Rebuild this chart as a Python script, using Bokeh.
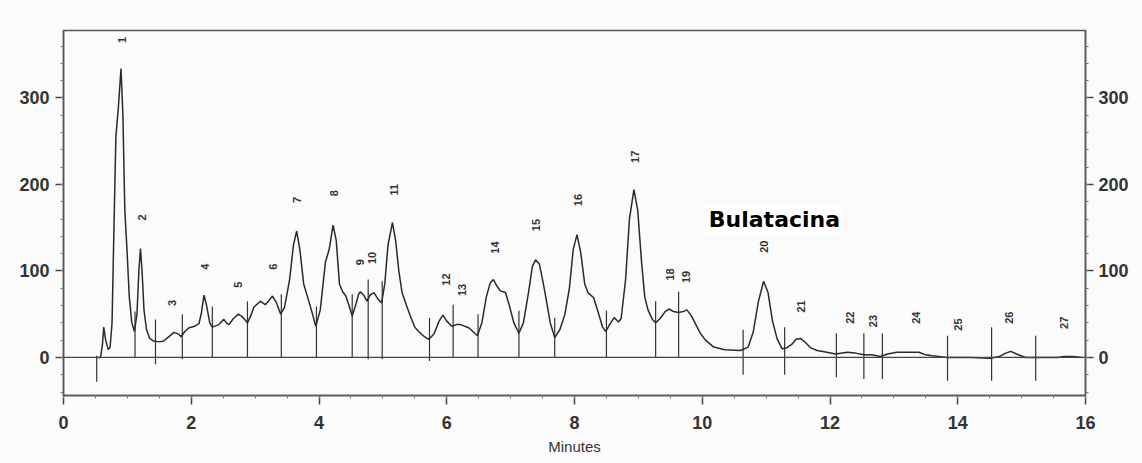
import math
from bokeh.plotting import figure
from bokeh.models import Range1d, LinearAxis, Span, Label, FixedTicker
from bokeh.core.properties import value
from bokeh.embed import file_html
from bokeh.resources import INLINE

# Chromatogram trace (minutes, response)
trace_x = [0.52, 0.58, 0.61, 0.63, 0.66, 0.70, 0.73, 0.76, 0.79, 0.82, 0.86, 0.90, 0.93, 0.96, 0.99,
           1.03, 1.07, 1.11, 1.15, 1.18, 1.205, 1.23, 1.26, 1.30, 1.35, 1.41, 1.50, 1.57, 1.65, 1.73,
           1.80, 1.84, 1.90, 1.96, 2.05, 2.12, 2.16, 2.20, 2.24, 2.29, 2.33, 2.43, 2.51, 2.55, 2.59,
           2.66, 2.74, 2.80, 2.88, 2.93, 2.98, 3.08, 3.16, 3.22, 3.27, 3.33, 3.40, 3.46, 3.54, 3.60,
           3.65, 3.70, 3.76, 3.82, 3.88, 3.95, 4.02, 4.10, 4.16, 4.22, 4.27, 4.32, 4.37, 4.42, 4.47,
           4.52, 4.58, 4.62, 4.65, 4.70, 4.75, 4.80, 4.86, 4.92, 4.98, 5.03, 5.08, 5.15, 5.20, 5.25,
           5.30, 5.37, 5.43, 5.50, 5.56, 5.65, 5.72, 5.80, 5.88, 5.94, 6.00, 6.08, 6.15, 6.22, 6.35,
           6.48, 6.55, 6.62, 6.68, 6.73, 6.79, 6.84, 6.92, 6.98, 7.05, 7.13, 7.20, 7.28, 7.34, 7.39,
           7.45, 7.50, 7.55, 7.62, 7.69, 7.77, 7.85, 7.92, 7.98, 8.04, 8.10, 8.16, 8.21, 8.30, 8.38,
           8.44, 8.49, 8.55, 8.62, 8.69, 8.73, 8.80, 8.86, 8.93, 8.99, 9.05, 9.10, 9.15, 9.22, 9.27,
           9.34, 9.42, 9.48, 9.55, 9.63, 9.70, 9.76, 9.83, 9.90, 9.97, 10.05, 10.18, 10.35, 10.60, 10.72,
           10.80, 10.88, 10.96, 11.03, 11.10, 11.17, 11.25, 11.32, 11.40, 11.47, 11.54, 11.62, 11.70, 11.80, 11.95,
           12.09, 12.27, 12.40, 12.53, 12.65, 12.79, 12.90, 13.05, 13.25, 13.39, 13.50, 13.60, 13.83, 14.20, 14.51,
           14.65, 14.75, 14.83, 14.92, 15.06, 15.40, 15.56, 15.66, 15.80, 15.95]
trace_y = [0, 0, 15, 35, 20, 9, 12, 40, 150, 255, 290, 334, 280, 170, 130,
           70, 40, 30, 50, 100, 126, 100, 55, 32, 22, 19, 18, 19, 24, 29,
           27, 24, 30, 34, 36, 39, 52, 72, 60, 40, 35, 38, 44, 40, 38,
           45, 50, 47, 40, 48, 58, 65, 61, 66, 71, 64, 50, 58, 90, 130,
           146, 125, 85, 70, 55, 36, 55, 110, 125, 153, 135, 85, 76, 71, 60,
           48, 62, 73, 76, 72, 65, 72, 75, 68, 63, 85, 130, 156, 135, 100,
           75, 60, 48, 35, 30, 24, 21, 27, 42, 49, 42, 36, 38, 38, 34,
           25, 40, 70, 86, 90, 82, 77, 75, 60, 40, 28, 40, 75, 105, 113,
           108, 90, 70, 40, 23, 32, 50, 80, 125, 142, 120, 85, 75, 69, 50,
           35, 30, 38, 46, 41, 45, 90, 160, 194, 170, 110, 70, 55, 44, 40,
           45, 53, 56, 53, 52, 53, 55, 48, 38, 28, 20, 12, 9, 8, 12,
           30, 65, 88, 75, 42, 22, 10, 11, 15, 21, 22, 17, 11, 8, 6,
           4, 6, 5, 3, 3, 1, 4, 6, 6, 6, 3, 2, 0, 0, -1,
           1, 5, 7, 4, 0, 0, 0, 1, 1, 0]

# Integration markers (vertical ticks)
marker_x = [0.52, 1.12, 1.44, 1.86, 2.33, 2.88, 3.41, 3.96, 4.52, 4.77, 4.99, 5.73, 6.10, 6.49,
            7.13, 7.69, 8.50, 9.27, 9.63, 10.64, 11.29, 12.10, 12.53, 12.82, 13.84, 14.53, 15.22]
marker_top = [2, 53, 44, 50, 59, 65, 73, 59, 73, 90, 88, 46, 61, 50,
              54, 46, 54, 65, 76, 32, 35, 28, 28, 28, 25, 35, 25]
marker_bottom = [-28, 0, -8, -2, 0, 0, 0, 0, 0, -2, -2, -4, 0, 0,
                 0, 0, 0, 0, 0, -20, -20, -23, -25, -25, -27, -27, -27]

# Peak number labels
peak_labels = [str(i) for i in range(1, 28)]
label_x = [0.92, 1.23, 1.70, 2.22, 2.73, 3.28, 3.66, 4.23, 4.64, 4.83, 5.17, 5.99, 6.24, 6.75,
           7.40, 8.05, 8.94, 9.49, 9.74, 10.96, 11.55, 12.32, 12.68, 13.34, 14.01, 14.80, 15.66]
label_y = [367, 162, 63, 105, 84, 105, 182, 190, 110, 115, 194, 90, 78, 127,
           153, 182, 232, 96, 93, 128, 59, 46, 42, 46, 38, 46, 40]

y_ticks = [0, 100, 200, 300]
x_ticks = [0, 2, 4, 6, 8, 10, 12, 14, 16]

ink = "#333333"
bg = "#fbfbfb"

p = figure(width=1142, height=463, output_backend="svg", toolbar_location=None,
           x_range=Range1d(0, 16), y_range=Range1d(-44, 378),
           min_border_left=63, min_border_right=57, min_border_top=30, min_border_bottom=68,
           background_fill_color=bg, border_fill_color=bg)
p.grid.visible = False
p.outline_line_color = "#555555"
p.outline_line_width = 1.5

def style_axis(ax, tick_out, standoff):
    ax.axis_line_color = "#555555"
    ax.axis_line_width = 1.5
    ax.major_tick_line_color = "#444444"
    ax.major_tick_line_width = 1.5
    ax.major_tick_out = tick_out
    ax.major_tick_in = 0
    ax.minor_tick_line_color = "#777777"
    ax.minor_tick_out = 3
    ax.minor_tick_in = 0
    ax.major_label_text_font = "Liberation Sans"
    ax.major_label_text_font_style = "bold"
    ax.major_label_text_font_size = "18px"
    ax.major_label_text_color = ink
    ax.major_label_standoff = standoff

p.xaxis.ticker = FixedTicker(ticks=x_ticks, minor_ticks=[v / 2 for v in range(0, 33)])
style_axis(p.xaxis[0], 9, 11)
p.xaxis.axis_label = "Minutes"
p.xaxis.axis_label_text_font = "Liberation Sans"
p.xaxis.axis_label_text_font_style = "normal"
p.xaxis.axis_label_text_font_size = "15px"
p.xaxis.axis_label_text_color = ink
p.xaxis.axis_label_standoff = 6

p.yaxis.ticker = FixedTicker(ticks=y_ticks, minor_ticks=list(range(-40, 380, 20)))
style_axis(p.yaxis[0], 8, 6)

right = LinearAxis(ticker=FixedTicker(ticks=y_ticks, minor_ticks=list(range(-40, 380, 20))))
style_axis(right, 8, 5)
p.add_layout(right, "right")

p.add_layout(Span(location=0, dimension="width", line_color="#444444", line_width=1.3))

p.segment(x0=marker_x, y0=marker_bottom, x1=marker_x, y1=marker_top,
          line_color="#333333", line_width=1.2)

p.line(trace_x, trace_y, line_color="#2a2a2a", line_width=1.5)

p.text(x=label_x, y=label_y, text=peak_labels, angle=math.pi / 2,
       text_align="center", text_baseline="middle",
       text_font=value("Liberation Sans"), text_font_style="bold",
       text_font_size="11px", text_color=ink)

p.add_layout(Label(x=11.13, y=159, text="Bulatacina", text_align="center", text_baseline="middle",
                   text_font="DejaVu Sans", text_font_style="bold", text_font_size="22px",
                   text_color="#000000", background_fill_color="white", padding=2))

open("out.html", "w").write(file_html(p, INLINE))
